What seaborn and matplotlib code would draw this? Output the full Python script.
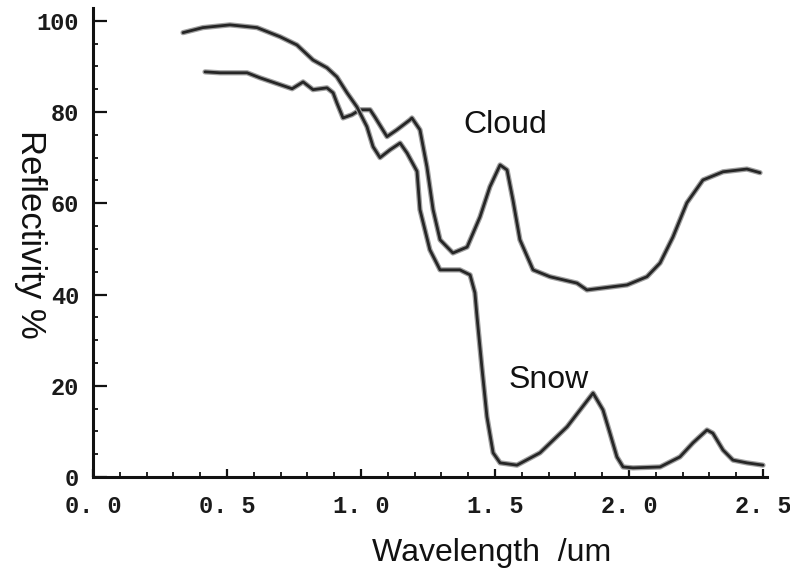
import numpy as np
import pandas as pd
import matplotlib
matplotlib.use("Agg")
import matplotlib.pyplot as plt
import seaborn as sns

# Cloud reflectance curve (wavelength um, reflectivity %)
cloud_x = [0.418, 0.474, 0.575, 0.623, 0.698, 0.743, 0.784, 0.821, 0.873, 0.896, 0.910,
           0.933, 0.966, 0.996, 1.034, 1.052, 1.097, 1.134, 1.183, 1.19, 1.22, 1.246,
           1.269, 1.295, 1.343, 1.396, 1.444, 1.481, 1.519, 1.545, 1.567, 1.593, 1.642,
           1.705, 1.806, 1.843, 1.993, 2.067, 2.116, 2.164, 2.216, 2.276, 2.351, 2.440,
           2.489]
cloud_y = [88.8, 88.6, 88.6, 87.5, 86.0, 85.1, 86.6, 84.9, 85.3, 84.2, 82.0,
           78.7, 79.4, 80.5, 80.5, 78.9, 74.6, 76.1, 78.3, 78.7, 76.1, 68.0,
           58.6, 52.0, 49.1, 50.4, 57.0, 63.6, 68.4, 67.3, 60.7, 52.0, 45.4,
           43.9, 42.5, 41.0, 42.1, 43.9, 46.9, 52.6, 60.1, 65.1, 66.9, 67.5,
           66.7]

# Snow reflectance curve
snow_x = [0.336, 0.410, 0.511, 0.612, 0.698, 0.761, 0.821, 0.873, 0.910, 0.948, 0.985,
          1.022, 1.045, 1.071, 1.108, 1.146, 1.172, 1.209, 1.220, 1.257, 1.295, 1.369,
          1.407, 1.425, 1.433, 1.451, 1.470, 1.493, 1.519, 1.582, 1.668, 1.769, 1.866,
          1.903, 1.929, 1.955, 1.978, 2.015, 2.116, 2.190, 2.239, 2.291, 2.313, 2.351,
          2.388, 2.440, 2.500]
snow_y = [97.4, 98.5, 99.1, 98.5, 96.5, 94.7, 91.4, 89.7, 87.7, 84.2, 81.1,
          76.8, 72.4, 70.0, 71.7, 73.2, 71.0, 67.0, 58.6, 49.8, 45.4, 45.4,
          44.3, 40.4, 35.1, 24.1, 13.2, 5.3, 3.1, 2.6, 5.3, 11.0, 18.4,
          14.7, 9.6, 4.4, 2.2, 2.0, 2.2, 4.4, 7.5, 10.3, 9.6, 5.9,
          3.7, 3.1, 2.6]

x_ticks = [0.0, 0.5, 1.0, 1.5, 2.0, 2.5]
x_tick_labels = ["0. 0", "0. 5", "1. 0", "1. 5", "2. 0", "2. 5"]
y_ticks = [0, 20, 40, 60, 80, 100]
y_tick_labels = ["0", "20", "40", "60", "80", "100"]

sns.set_style("white")
plt.rcParams['font.family'] = ['Liberation Sans', 'DejaVu Sans']

fig = plt.figure(figsize=(7.9, 5.78), dpi=100)
ax = fig.add_axes([93 / 790, 1 - 477 / 578, (767 - 93) / 790, (477 - 8) / 578])

df_c = pd.DataFrame({"x": cloud_x, "y": cloud_y})
df_s = pd.DataFrame({"x": snow_x, "y": snow_y})
line_col = "#262626"
for d in (df_c, df_s):
    sns.lineplot(data=d, x="x", y="y", ax=ax, color="#a0a0a0", linewidth=3.8, sort=False)
    sns.lineplot(data=d, x="x", y="y", ax=ax, color=line_col, linewidth=2.0, sort=False)
for ln in ax.lines:
    ln.set_solid_joinstyle("round")
    ln.set_solid_capstyle("round")

ax.set_xlim(0, 2.515)
ax.set_ylim(0, 102.8)
ax.set_xlabel("")
ax.set_ylabel("")

for s in ["top", "right"]:
    ax.spines[s].set_visible(False)
for s in ["left", "bottom"]:
    ax.spines[s].set_linewidth(2.2)
    ax.spines[s].set_color("#111111")

ax.set_xticks(x_ticks)
ax.set_xticklabels(x_tick_labels)
ax.set_yticks(y_ticks)
ax.set_yticklabels(y_tick_labels)
ax.set_xticks(np.arange(0, 2.51, 0.1), minor=True)
ax.set_yticks(np.arange(0, 101, 5), minor=True)
ax.tick_params(axis="both", which="both", bottom=True, left=True, top=False, right=False)
ax.tick_params(axis="both", which="major", direction="in", width=1.6,
               color="#111111", labelsize=17)
ax.tick_params(axis="y", which="major", length=10, pad=10)
ax.tick_params(axis="x", which="major", length=6, pad=13)
ax.tick_params(axis="both", which="minor", direction="in", length=3.5, width=1.3,
               color="#111111")
for lab in ax.get_xticklabels() + ax.get_yticklabels():
    lab.set_family("Liberation Mono")
    lab.set_fontweight("bold")
    lab.set_color("#1a1a1a")

ax.text(1.537, 77.2, "Cloud", fontsize=23, ha="center", va="center", color="#111111")
ax.text(1.70, 21.3, "Snow", fontsize=23, ha="center", va="center", color="#111111")

fig.text(492 / 790, 1 - 553 / 578, "Wavelength  /um", fontsize=23, ha="center",
         va="center", color="#111111")
fig.text(30 / 790, 1 - 234 / 578, "Reflectivity %", fontsize=25, rotation=-90,
         ha="center", va="center", color="#111111")

fig.savefig("out.png", dpi=100, facecolor="white")
